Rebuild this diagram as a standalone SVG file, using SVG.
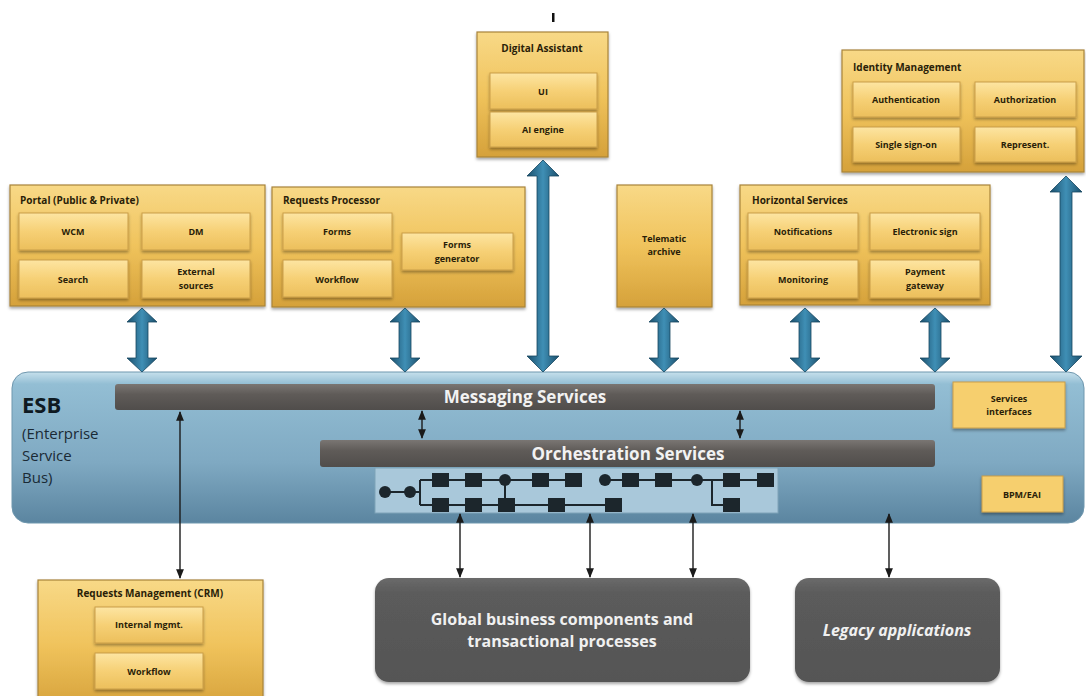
<svg xmlns="http://www.w3.org/2000/svg" width="1086" height="696" viewBox="0 0 1086 696">
  <defs>
    <linearGradient id="gold" x1="0" y1="0" x2="0" y2="1">
      <stop offset="0" stop-color="#f8d987"/>
      <stop offset="0.5" stop-color="#f0c35c"/>
      <stop offset="1" stop-color="#d5a13a"/>
    </linearGradient>
    <linearGradient id="goldInner" x1="0" y1="0" x2="0" y2="1">
      <stop offset="0" stop-color="#fde5a2"/>
      <stop offset="0.5" stop-color="#f6d075"/>
      <stop offset="1" stop-color="#ecbf5c"/>
    </linearGradient>
    <linearGradient id="esb" x1="0" y1="0" x2="0" y2="1">
      <stop offset="0" stop-color="#c6e0ec"/>
      <stop offset="0.08" stop-color="#93bed4"/>
      <stop offset="0.6" stop-color="#7fa9c2"/>
      <stop offset="1" stop-color="#5b85a0"/>
    </linearGradient>
    <linearGradient id="bar" x1="0" y1="0" x2="0" y2="1">
      <stop offset="0" stop-color="#7a7673"/>
      <stop offset="0.4" stop-color="#5f5b58"/>
      <stop offset="1" stop-color="#504d4b"/>
    </linearGradient>
    <linearGradient id="grayBox" x1="0" y1="0" x2="0" y2="1">
      <stop offset="0" stop-color="#6a6a6a"/>
      <stop offset="0.15" stop-color="#5b5b5b"/>
      <stop offset="1" stop-color="#555555"/>
    </linearGradient>
    <linearGradient id="blueArrow" x1="0" y1="0" x2="1" y2="0">
      <stop offset="0" stop-color="#1b4f6c"/>
      <stop offset="0.5" stop-color="#3f8fb5"/>
      <stop offset="1" stop-color="#1b4f6c"/>
    </linearGradient>
    <filter id="shadow" x="-10%" y="-10%" width="120%" height="130%">
      <feDropShadow dx="0" dy="2" stdDeviation="1.5" flood-color="#000" flood-opacity="0.35"/>
    </filter>
    <marker id="tip" viewBox="0 0 10 10" refX="9" refY="5" markerWidth="7" markerHeight="7" orient="auto-start-reverse">
      <path d="M0,1 L10,5 L0,9 z" fill="#1a1a1a"/>
    </marker>
  </defs>
  <style>
    .outer { fill: url(#gold); stroke: #a8843a; stroke-width: 1.2; filter: url(#shadow); }
    .inner { fill: url(#goldInner); stroke: #c99e48; stroke-width: 1; filter: url(#shadow); }
    .title { font-family: "Open Sans", "Liberation Sans", sans-serif; font-weight: bold; font-size: 10px; fill: #2a1e08; }
    .lbl { font-family: "Open Sans", "Liberation Sans", sans-serif; font-weight: bold; font-size: 9px; fill: #2a1e08; text-anchor: middle; }
    .bar { fill: url(#bar); }
    .barText { font-family: "Open Sans", "Liberation Sans", sans-serif; font-weight: bold; font-size: 17px; fill: #f2f2f2; text-anchor: middle; }
    .big { fill: url(#blueArrow); stroke: #174660; stroke-width: 0.8; }
    .thin { stroke: #1a1a1a; stroke-width: 1.4; fill: none; marker-start: url(#tip); marker-end: url(#tip); }
    .flow { stroke: #1c262c; stroke-width: 2; fill: none; }
    .sq { fill: #1c262c; }
    .dark { fill: url(#grayBox); filter: url(#shadow); }
    .darkText { font-family: "Open Sans", "Liberation Sans", sans-serif; font-weight: bold; font-size: 16px; fill: #f0f0f0; text-anchor: middle; }
  </style>

  <rect width="1086" height="696" fill="#ffffff"/>

  <!-- small tick above the assistant box -->
  <rect x="552" y="13" width="2.5" height="9" fill="#111"/>

  <!-- ESB container -->
  <g id="esb">
    <rect x="12" y="372" width="1072" height="151" rx="16" fill="url(#esb)" stroke="#6f97ae" stroke-width="1"/>
    <text x="22" y="413" font-family="Open Sans, Liberation Sans, sans-serif" font-weight="bold" font-size="22" fill="#0f1a22">ESB</text>
    <text font-family="Open Sans, Liberation Sans, sans-serif" font-size="15" fill="#1a2a35">
      <tspan x="22" y="439">(Enterprise</tspan>
      <tspan x="22" y="461">Service</tspan>
      <tspan x="22" y="483">Bus)</tspan>
    </text>
  </g>

  <g id="messaging">
    <rect class="bar" x="115" y="384" width="820" height="26" rx="3"/>
    <text class="barText" x="525" y="403">Messaging Services</text>
  </g>

  <g id="orchestration">
    <rect class="bar" x="320" y="440" width="615" height="27" rx="3"/>
    <text class="barText" x="628" y="460">Orchestration Services</text>
  </g>

  <g id="services-interfaces">
    <rect x="953" y="382" width="112" height="46" fill="#f6cf6e" stroke="#c99e48" filter="url(#shadow)"/>
    <text class="lbl" x="1009" y="402">Services</text>
    <text class="lbl" x="1009" y="415">interfaces</text>
  </g>

  <g id="bpm-eai">
    <rect x="982" y="476" width="81" height="36" fill="#f6cf6e" stroke="#c99e48" filter="url(#shadow)"/>
    <text class="lbl" x="1022" y="498">BPM/EAI</text>
  </g>

  <!-- process flow inside the orchestration layer -->
  <g id="process-flow">
    <rect x="375" y="468" width="403" height="45" fill="#a9c8da" stroke="#7fa3b8" stroke-width="1"/>
    <path class="flow" d="M385,492 H420 M420,480 V505 M420,480 H582 M420,505 H622 M505,480 V505 M605,480 H773 M697,480 H712 V505 H740"/>
    <circle cx="385" cy="492" r="6" class="sq"/>
    <circle cx="410" cy="492" r="6" class="sq"/>
    <rect class="sq" x="432" y="473" width="17" height="14"/>
    <rect class="sq" x="465" y="473" width="17" height="14"/>
    <circle cx="505" cy="480" r="6" class="sq"/>
    <rect class="sq" x="532" y="473" width="17" height="14"/>
    <rect class="sq" x="565" y="473" width="17" height="14"/>
    <rect class="sq" x="432" y="498" width="17" height="14"/>
    <rect class="sq" x="465" y="498" width="17" height="14"/>
    <rect class="sq" x="498" y="498" width="17" height="14"/>
    <rect class="sq" x="548" y="498" width="17" height="14"/>
    <rect class="sq" x="605" y="498" width="17" height="14"/>
    <circle cx="605" cy="480" r="6" class="sq"/>
    <rect class="sq" x="622" y="473" width="17" height="14"/>
    <rect class="sq" x="655" y="473" width="17" height="14"/>
    <circle cx="697" cy="480" r="6" class="sq"/>
    <rect class="sq" x="723" y="473" width="17" height="14"/>
    <rect class="sq" x="757" y="473" width="17" height="14"/>
    <rect class="sq" x="723" y="498" width="17" height="14"/>
  </g>

  <!-- Digital Assistant -->
  <g id="digital-assistant">
    <rect class="outer" x="477" y="32" width="131" height="125"/>
    <text class="title" x="542" y="52" text-anchor="middle" font-size="9">Digital Assistant</text>
    <rect class="inner" x="490" y="73" width="107" height="36"/>
    <text class="lbl" x="543" y="95">UI</text>
    <rect class="inner" x="490" y="112" width="107" height="35"/>
    <text class="lbl" x="543" y="133">AI engine</text>
  </g>

  <!-- Identity Management -->
  <g id="identity-management">
    <rect class="outer" x="842" y="50" width="242" height="122"/>
    <text class="title" x="853" y="71">Identity Management</text>
    <rect class="inner" x="853" y="82" width="107" height="35"/>
    <text class="lbl" x="906" y="103">Authentication</text>
    <rect class="inner" x="975" y="82" width="101" height="35"/>
    <text class="lbl" x="1025" y="103">Authorization</text>
    <rect class="inner" x="853" y="127" width="107" height="35"/>
    <text class="lbl" x="906" y="148">Single sign-on</text>
    <rect class="inner" x="975" y="127" width="101" height="35"/>
    <text class="lbl" x="1025" y="148">Represent.</text>
  </g>

  <!-- Portal -->
  <g id="portal">
    <rect class="outer" x="10" y="185" width="255" height="121"/>
    <text class="title" x="20" y="204">Portal (Public &amp; Private)</text>
    <rect class="inner" x="19" y="213" width="109" height="37"/>
    <text class="lbl" x="73" y="235">WCM</text>
    <rect class="inner" x="142" y="213" width="108" height="37"/>
    <text class="lbl" x="196" y="235">DM</text>
    <rect class="inner" x="19" y="260" width="109" height="38"/>
    <text class="lbl" x="73" y="283">Search</text>
    <rect class="inner" x="142" y="260" width="108" height="38"/>
    <text class="lbl" x="196" y="275">External</text>
    <text class="lbl" x="196" y="289">sources</text>
  </g>

  <!-- Requests Processor -->
  <g id="requests-processor">
    <rect class="outer" x="272" y="187" width="253" height="120"/>
    <text class="title" x="283" y="204">Requests Processor</text>
    <rect class="inner" x="283" y="213" width="109" height="37"/>
    <text class="lbl" x="337" y="235">Forms</text>
    <rect class="inner" x="283" y="260" width="109" height="37"/>
    <text class="lbl" x="337" y="283">Workflow</text>
    <rect class="inner" x="402" y="233" width="111" height="37"/>
    <text class="lbl" x="457" y="248">Forms</text>
    <text class="lbl" x="457" y="262">generator</text>
  </g>

  <!-- Telematic archive -->
  <g id="telematic-archive">
    <rect class="outer" x="617" y="185" width="95" height="122"/>
    <text class="lbl" x="664" y="242">Telematic</text>
    <text class="lbl" x="664" y="255">archive</text>
  </g>

  <!-- Horizontal Services -->
  <g id="horizontal-services">
    <rect class="outer" x="740" y="185" width="250" height="120"/>
    <text class="title" x="752" y="204">Horizontal Services</text>
    <rect class="inner" x="748" y="213" width="110" height="37"/>
    <text class="lbl" x="803" y="235">Notifications</text>
    <rect class="inner" x="870" y="213" width="110" height="37"/>
    <text class="lbl" x="925" y="235">Electronic sign</text>
    <rect class="inner" x="748" y="260" width="110" height="38"/>
    <text class="lbl" x="803" y="283">Monitoring</text>
    <rect class="inner" x="870" y="260" width="110" height="38"/>
    <text class="lbl" x="925" y="275">Payment</text>
    <text class="lbl" x="925" y="289">gateway</text>
  </g>

  <!-- Requests Management (CRM) -->
  <g id="requests-management">
    <rect class="outer" x="38" y="580" width="225" height="130"/>
    <text class="title" x="150" y="597" text-anchor="middle">Requests Management (CRM)</text>
    <rect class="inner" x="95" y="607" width="108" height="36"/>
    <text class="lbl" x="149" y="628">Internal mgmt.</text>
    <rect class="inner" x="95" y="653" width="108" height="36"/>
    <text class="lbl" x="149" y="675">Workflow</text>
  </g>

  <!-- Global business components -->
  <g id="global-business">
    <rect class="dark" x="375" y="578" width="375" height="104" rx="14"/>
    <text class="darkText" x="562" y="625">Global business components and</text>
    <text class="darkText" x="562" y="647">transactional processes</text>
  </g>

  <!-- Legacy applications -->
  <g id="legacy">
    <rect class="dark" x="795" y="578" width="205" height="104" rx="14"/>
    <text class="darkText" x="897" y="636" font-style="italic">Legacy applications</text>
  </g>

  <!-- connectors -->
  <g id="connectors">
    <!-- wide double arrows between the layers and the bus -->
    <path class="big" d="M142,308 L157,322 L148,322 L148,358 L157,358 L142,372 L127,358 L136,358 L136,322 L127,322 Z"/>
    <path class="big" d="M405,308 L420,322 L411,322 L411,358 L420,358 L405,372 L390,358 L399,358 L399,322 L390,322 Z"/>
    <path class="big" d="M543,160 L559,176 L549,176 L549,356 L559,356 L543,372 L527,356 L537,356 L537,176 L527,176 Z"/>
    <path class="big" d="M664,308 L679,322 L670,322 L670,358 L679,358 L664,372 L649,358 L658,358 L658,322 L649,322 Z"/>
    <path class="big" d="M805,308 L820,322 L811,322 L811,358 L820,358 L805,372 L790,358 L799,358 L799,322 L790,322 Z"/>
    <path class="big" d="M935,308 L950,322 L941,322 L941,358 L950,358 L935,372 L920,358 L929,358 L929,322 L920,322 Z"/>
    <path class="big" d="M1066,176 L1082,192 L1072,192 L1072,356 L1082,356 L1066,372 L1050,356 L1060,356 L1060,192 L1050,192 Z"/>

    <!-- thin links -->
    <line class="thin" x1="422" y1="411" x2="422" y2="438"/>
    <line class="thin" x1="740" y1="411" x2="740" y2="438"/>
    <line class="thin" x1="180" y1="412" x2="180" y2="578"/>
    <line class="thin" x1="460" y1="514" x2="460" y2="577"/>
    <line class="thin" x1="590" y1="514" x2="590" y2="577"/>
    <line class="thin" x1="693" y1="514" x2="693" y2="577"/>
    <line class="thin" x1="889" y1="514" x2="889" y2="577"/>
  </g>
</svg>
